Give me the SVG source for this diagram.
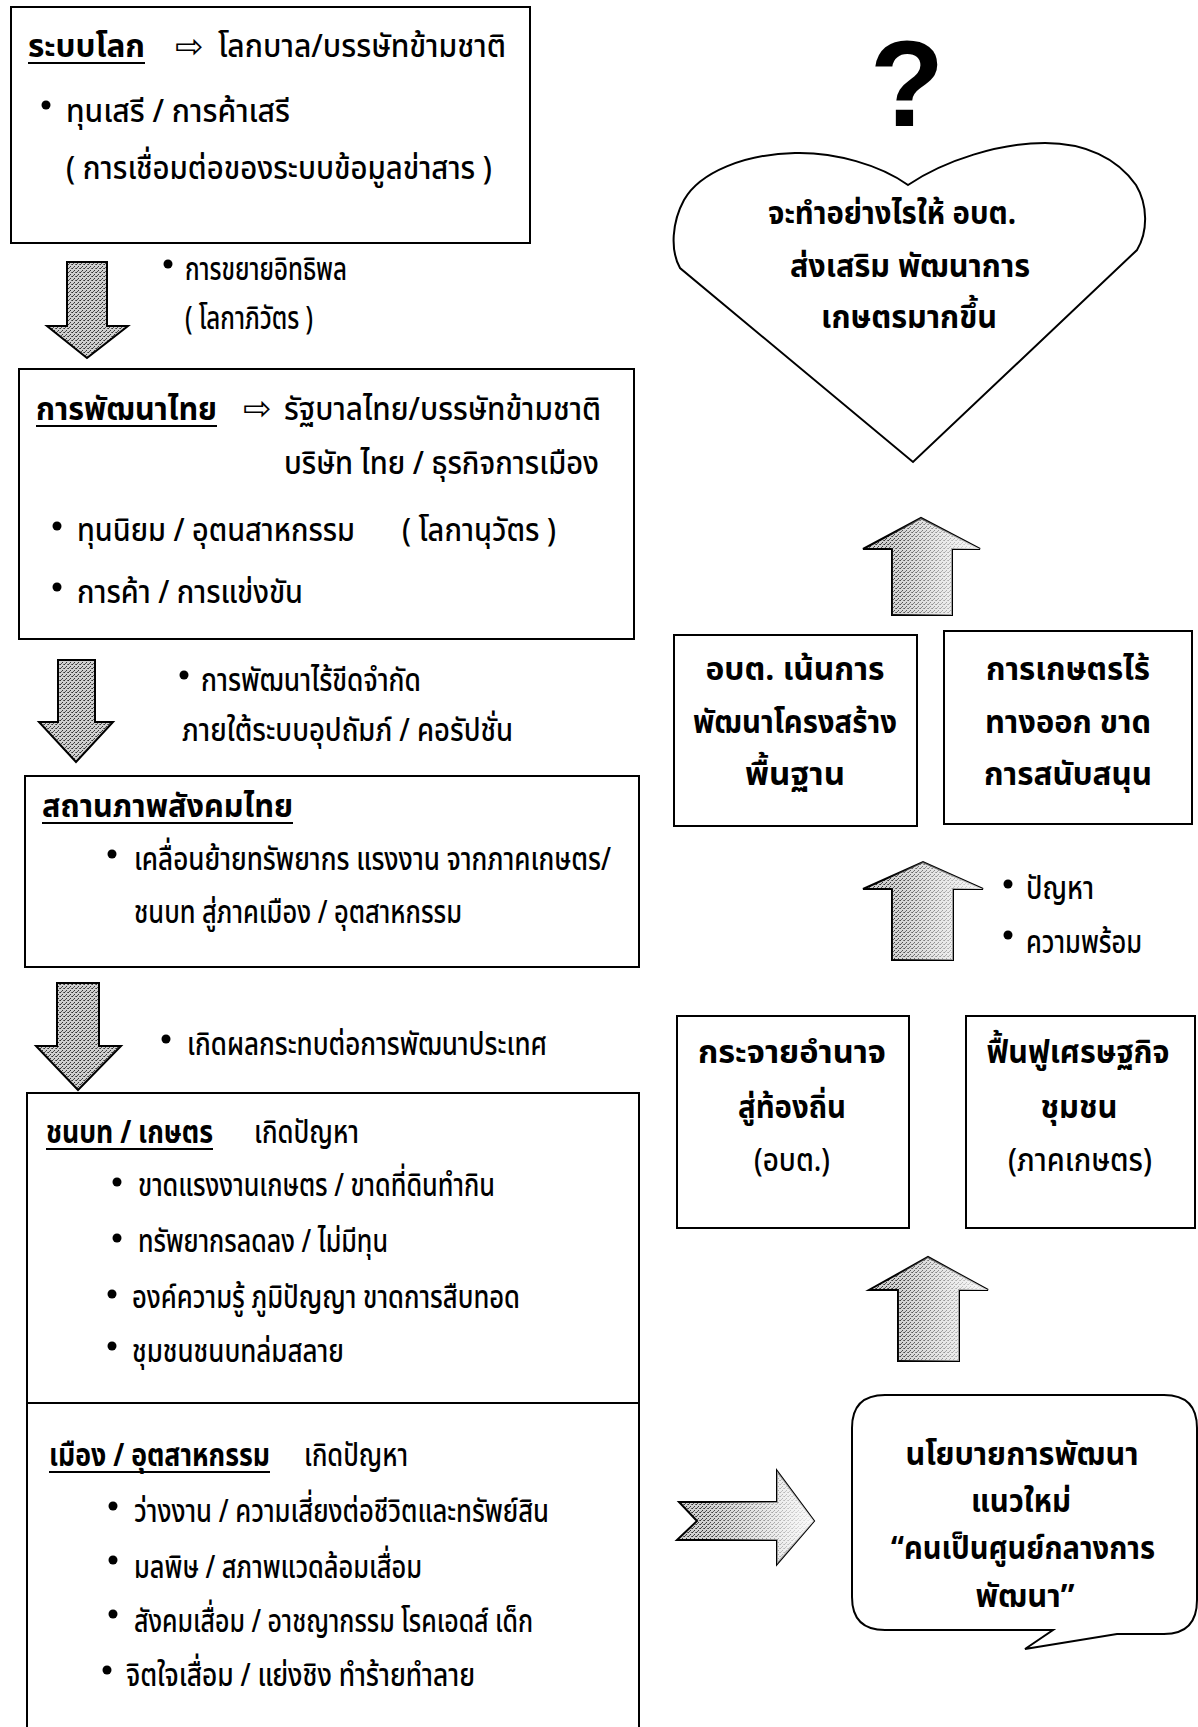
<svg xmlns="http://www.w3.org/2000/svg" width="1198" height="1727" viewBox="0 0 1198 1727">
<defs>
<style>
.t{font-family:'Noto Sans Thai','Noto Sans Thai UI','Loma','Garuda','Tlwg Typo','Noto Sans','DejaVu Sans',sans-serif;font-size:32px;font-weight:500;fill:#000}
.b{font-weight:bold}
.bx{fill:#fff;stroke:#000;stroke-width:2}
.sym{font-family:'DejaVu Sans',sans-serif;font-size:34px;fill:#000}
.ul{stroke:#000;stroke-width:2}
.arr{stroke:#000;stroke-width:2;stroke-linejoin:miter}
</style>
<pattern id="stip" width="4" height="4" patternUnits="userSpaceOnUse">
<rect width="4" height="4" fill="#d0d0d0"/>
<rect x="0" y="0" width="1" height="1" fill="#333"/>
<rect x="2" y="2" width="1" height="1" fill="#333"/>
<rect x="3" y="0" width="1" height="1" fill="#666"/>
<rect x="1" y="3" width="1" height="1" fill="#555"/>
</pattern>
<linearGradient id="fade" x1="0" y1="0" x2="1" y2="0">
<stop offset="0.2" stop-color="#fff" stop-opacity="0"/>
<stop offset="1" stop-color="#fff" stop-opacity="0.9"/>
</linearGradient>
</defs>
<rect width="1198" height="1727" fill="#fff"/>

<g id="connectors">
<g id="arrow-down-1"><polygon class="arr" fill="url(#stip)" points="67,262 107,262 107,326 128,326 87,358 47,326 67,326"/></g>
<g id="arrow-down-2"><polygon class="arr" fill="url(#stip)" points="58,660 95,660 95,722 113,722 76,762 39,722 58,722"/></g>
<g id="arrow-down-3"><polygon class="arr" fill="url(#stip)" points="57,983 99,983 99,1046 121,1046 78,1090 36,1046 57,1046"/></g>
<g id="arrow-right"><polygon class="arr" fill="url(#stip)" points="679,1502 777,1502 777,1471 814,1521 777,1564 777,1540 677,1540 697,1521"/><polygon fill="url(#fade)" points="679,1502 777,1502 777,1471 814,1521 777,1564 777,1540 677,1540 697,1521"/></g>
<g id="arrow-up-a"><polygon class="arr" fill="url(#stip)" points="892,615 952,615 952,549 980,549 921,518 863,549 892,549"/><polygon fill="url(#fade)" points="892,615 952,615 952,549 980,549 921,518 863,549 892,549"/></g>
<g id="arrow-up-b"><polygon class="arr" fill="url(#stip)" points="892,960 953,960 953,889 983,889 923,862 863,889 892,889"/><polygon fill="url(#fade)" points="892,960 953,960 953,889 983,889 923,862 863,889 892,889"/></g>
<g id="arrow-up-c"><polygon class="arr" fill="url(#stip)" points="898,1361 959,1361 959,1290 988,1290 928,1257 869,1290 898,1290"/><polygon fill="url(#fade)" points="898,1361 959,1361 959,1290 988,1290 928,1257 869,1290 898,1290"/></g>
</g>

<g id="node-global">
<rect class="bx" x="11" y="7" width="519" height="236"/>
<text class="t b" x="28" y="57" textLength="117" lengthAdjust="spacingAndGlyphs">ระบบโลก</text>
<line class="ul" x1="28" y1="63" x2="145" y2="63"/>
<text class="sym" x="175" y="58">⇨</text>
<text class="t" x="218" y="57" textLength="288" lengthAdjust="spacingAndGlyphs">โลกบาล/บรรษัทข้ามชาติ</text>
<circle cx="46" cy="105" r="4.5"/>
<text class="t" x="66" y="122" textLength="224" lengthAdjust="spacingAndGlyphs">ทุนเสรี / การค้าเสรี</text>
<text class="t" x="66" y="179" textLength="426" lengthAdjust="spacingAndGlyphs">( การเชื่อมต่อของระบบข้อมูลข่าสาร )</text>
</g>

<g id="label-1">
<circle cx="168" cy="264" r="4.5"/>
<text class="t" x="185" y="280" textLength="162" lengthAdjust="spacingAndGlyphs">การขยายอิทธิพล</text>
<text class="t" x="185" y="329" textLength="128" lengthAdjust="spacingAndGlyphs">( โลกาภิวัตร )</text>
</g>

<g id="node-thai-dev">
<rect class="bx" x="19" y="369" width="615" height="270"/>
<text class="t b" x="36" y="420" textLength="181" lengthAdjust="spacingAndGlyphs">การพัฒนาไทย</text>
<line class="ul" x1="36" y1="426" x2="217" y2="426"/>
<text class="sym" x="243" y="420">⇨</text>
<text class="t" x="284" y="420" textLength="317" lengthAdjust="spacingAndGlyphs">รัฐบาลไทย/บรรษัทข้ามชาติ</text>
<text class="t" x="284" y="474" textLength="315" lengthAdjust="spacingAndGlyphs">บริษัท ไทย / ธุรกิจการเมือง</text>
<circle cx="57" cy="526" r="4.5"/>
<text class="t" x="77" y="541" textLength="278" lengthAdjust="spacingAndGlyphs">ทุนนิยม / อุตนสาหกรรม</text>
<text class="t" x="402" y="541" textLength="154" lengthAdjust="spacingAndGlyphs">( โลกานุวัตร )</text>
<circle cx="57" cy="587" r="4.5"/>
<text class="t" x="77" y="603" textLength="226" lengthAdjust="spacingAndGlyphs">การค้า / การแข่งขัน</text>
</g>

<g id="label-2">
<circle cx="184" cy="675" r="4.5"/>
<text class="t" x="201" y="691" textLength="220" lengthAdjust="spacingAndGlyphs">การพัฒนาไร้ขีดจำกัด</text>
<text class="t" x="182" y="741" textLength="331" lengthAdjust="spacingAndGlyphs">ภายใต้ระบบอุปถัมภ์ / คอรัปชั่น</text>
</g>

<g id="node-society">
<rect class="bx" x="25" y="776" width="614" height="191"/>
<text class="t b" x="42" y="817" textLength="251" lengthAdjust="spacingAndGlyphs">สถานภาพสังคมไทย</text>
<line class="ul" x1="42" y1="823" x2="293" y2="823"/>
<circle cx="112" cy="854" r="4.5"/>
<text class="t" x="134" y="870" textLength="477" lengthAdjust="spacingAndGlyphs">เคลื่อนย้ายทรัพยากร  แรงงาน จากภาคเกษตร/</text>
<text class="t" x="134" y="923" textLength="328" lengthAdjust="spacingAndGlyphs">ชนบท สู่ภาคเมือง / อุตสาหกรรม</text>
</g>

<g id="label-3">
<circle cx="166" cy="1039" r="4.5"/>
<text class="t" x="187" y="1055" textLength="360" lengthAdjust="spacingAndGlyphs">เกิดผลกระทบต่อการพัฒนาประเทศ</text>
</g>

<g id="node-problems">
<rect class="bx" x="27" y="1093" width="612" height="650"/>
<line class="ul" x1="27" y1="1403" x2="639" y2="1403"/>
<text class="t b" x="46" y="1143" textLength="167" lengthAdjust="spacingAndGlyphs">ชนบท / เกษตร</text>
<line class="ul" x1="46" y1="1149" x2="213" y2="1149"/>
<text class="t" x="254" y="1143" textLength="105" lengthAdjust="spacingAndGlyphs">เกิดปัญหา</text>
<circle cx="117" cy="1182" r="4.5"/>
<text class="t" x="138" y="1196" textLength="357" lengthAdjust="spacingAndGlyphs">ขาดแรงงานเกษตร / ขาดที่ดินทำกิน</text>
<circle cx="117" cy="1238" r="4.5"/>
<text class="t" x="138" y="1252" textLength="250" lengthAdjust="spacingAndGlyphs">ทรัพยากรลดลง / ไม่มีทุน</text>
<circle cx="112" cy="1294" r="4.5"/>
<text class="t" x="132" y="1308" textLength="388" lengthAdjust="spacingAndGlyphs">องค์ความรู้ ภูมิปัญญา ขาดการสืบทอด</text>
<circle cx="112" cy="1346" r="4.5"/>
<text class="t" x="132" y="1362" textLength="212" lengthAdjust="spacingAndGlyphs">ชุมชนชนบทล่มสลาย</text>
<text class="t b" x="49" y="1466" textLength="221" lengthAdjust="spacingAndGlyphs">เมือง / อุตสาหกรรม</text>
<line class="ul" x1="49" y1="1472" x2="270" y2="1472"/>
<text class="t" x="304" y="1466" textLength="104" lengthAdjust="spacingAndGlyphs">เกิดปัญหา</text>
<circle cx="113" cy="1506" r="4.5"/>
<text class="t" x="134" y="1522" textLength="415" lengthAdjust="spacingAndGlyphs">ว่างงาน  / ความเสี่ยงต่อชีวิตและทรัพย์สิน</text>
<circle cx="113" cy="1560" r="4.5"/>
<text class="t" x="134" y="1578" textLength="288" lengthAdjust="spacingAndGlyphs">มลพิษ / สภาพแวดล้อมเสื่อม</text>
<circle cx="113" cy="1614" r="4.5"/>
<text class="t" x="134" y="1632" textLength="399" lengthAdjust="spacingAndGlyphs">สังคมเสื่อม / อาชญากรรม โรคเอดส์ เด็ก</text>
<circle cx="107" cy="1670" r="4.5"/>
<text class="t" x="126" y="1686" textLength="349" lengthAdjust="spacingAndGlyphs">จิตใจเสื่อม / แย่งชิง  ทำร้ายทำลาย</text>
</g>

<g id="node-question">
<text x="907" y="126" text-anchor="middle" style="font-family:'Liberation Sans',Arial,sans-serif;font-weight:bold;font-size:122px">?</text>
<path class="bx" d="M908,185 C880,165 835,152 795,153 C745,154 700,172 684,200 C672,222 670,250 680,268 L913,462 L1137,250 C1148,232 1148,205 1136,185 C1117,158 1085,143 1045,143 C1000,143 945,160 908,185 Z"/>
<text class="t b" x="892" y="224" text-anchor="middle" textLength="248" lengthAdjust="spacingAndGlyphs">จะทำอย่างไรให้ อบต.</text>
<text class="t b" x="910" y="277" text-anchor="middle" textLength="240" lengthAdjust="spacingAndGlyphs">ส่งเสริม พัฒนาการ</text>
<text class="t b" x="909" y="328" text-anchor="middle" textLength="176" lengthAdjust="spacingAndGlyphs">เกษตรมากขึ้น</text>
</g>

<g id="node-infra">
<rect class="bx" x="674" y="635" width="243" height="191"/>
<text class="t b" x="795" y="680" text-anchor="middle" textLength="179" lengthAdjust="spacingAndGlyphs">อบต. เน้นการ</text>
<text class="t b" x="795" y="733" text-anchor="middle" textLength="204" lengthAdjust="spacingAndGlyphs">พัฒนาโครงสร้าง</text>
<text class="t b" x="795" y="785" text-anchor="middle" textLength="100" lengthAdjust="spacingAndGlyphs">พื้นฐาน</text>
</g>

<g id="node-agri">
<rect class="bx" x="944" y="631" width="248" height="193"/>
<text class="t b" x="1068" y="680" text-anchor="middle" textLength="164" lengthAdjust="spacingAndGlyphs">การเกษตรไร้</text>
<text class="t b" x="1068" y="733" text-anchor="middle" textLength="166" lengthAdjust="spacingAndGlyphs">ทางออก ขาด</text>
<text class="t b" x="1068" y="785" text-anchor="middle" textLength="168" lengthAdjust="spacingAndGlyphs">การสนับสนุน</text>
</g>

<g id="label-4">
<circle cx="1008" cy="884" r="4.5"/>
<text class="t" x="1026" y="899" textLength="68" lengthAdjust="spacingAndGlyphs">ปัญหา</text>
<circle cx="1008" cy="935" r="4.5"/>
<text class="t" x="1026" y="953" textLength="116" lengthAdjust="spacingAndGlyphs">ความพร้อม</text>
</g>

<g id="node-decentral">
<rect class="bx" x="677" y="1016" width="232" height="212"/>
<text class="t b" x="792" y="1063" text-anchor="middle" textLength="188" lengthAdjust="spacingAndGlyphs">กระจายอำนาจ</text>
<text class="t b" x="792" y="1118" text-anchor="middle" textLength="108" lengthAdjust="spacingAndGlyphs">สู่ท้องถิ่น</text>
<text class="t" x="792" y="1171" text-anchor="middle" textLength="76" lengthAdjust="spacingAndGlyphs">(อบต.)</text>
</g>

<g id="node-economy">
<rect class="bx" x="966" y="1016" width="229" height="212"/>
<text class="t b" x="1078" y="1063" text-anchor="middle" textLength="183" lengthAdjust="spacingAndGlyphs">ฟื้นฟูเศรษฐกิจ</text>
<text class="t b" x="1079" y="1118" text-anchor="middle" textLength="77" lengthAdjust="spacingAndGlyphs">ชุมชน</text>
<text class="t" x="1080" y="1171" text-anchor="middle" textLength="144" lengthAdjust="spacingAndGlyphs">(ภาคเกษตร)</text>
</g>

<g id="node-policy">
<path class="bx" d="M885,1395 L1164,1395 Q1197,1395 1197,1428 L1197,1600 Q1197,1634 1164,1634 L1117,1634 L1025,1649 L1053,1630 L885,1630 Q852,1630 852,1597 L852,1428 Q852,1395 885,1395 Z"/>
<text class="t b" x="1022" y="1465" text-anchor="middle" textLength="233" lengthAdjust="spacingAndGlyphs">นโยบายการพัฒนา</text>
<text class="t b" x="1021" y="1512" text-anchor="middle" textLength="100" lengthAdjust="spacingAndGlyphs">แนวใหม่</text>
<text class="t b" x="1023" y="1559" text-anchor="middle" textLength="264" lengthAdjust="spacingAndGlyphs">“คนเป็นศูนย์กลางการ</text>
<text class="t b" x="1025" y="1607" text-anchor="middle" textLength="99" lengthAdjust="spacingAndGlyphs">พัฒนา”</text>
</g>
</svg>
